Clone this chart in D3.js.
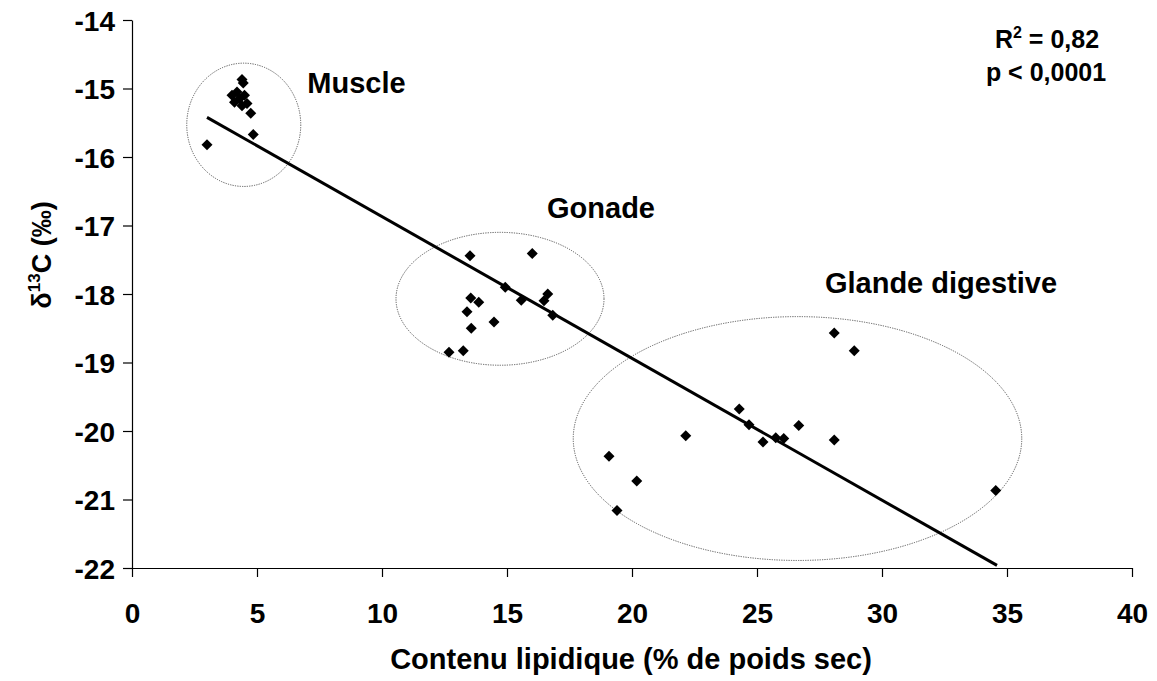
<!DOCTYPE html>
<html>
<head>
<meta charset="utf-8">
<script src="https://cdn.jsdelivr.net/npm/d3@7"></script>
<style>
  html, body { margin: 0; padding: 0; background: #fff; }
  svg { display: block; }
  text { font-family: "Liberation Sans", Arial, sans-serif; font-weight: bold; fill: #000; }
</style>
</head>
<body>
<svg id="chart" width="1157" height="681"></svg>
<script>
// Lipid content (% dry weight) and δ13C (‰) per tissue
const muscleX = [3.0, 4.4, 4.45, 4.0, 4.2, 4.1, 4.3, 4.5, 4.4, 4.6, 4.75, 4.85];
const muscleY = [-15.82, -14.87, -14.92, -15.1, -15.05, -15.2, -15.15, -15.1, -15.25, -15.22, -15.36, -15.67];

const gonadeX = [13.52, 16.01, 14.93, 13.55, 13.87, 15.57, 16.63, 16.48, 13.4, 16.83, 14.48, 13.57, 12.68, 13.25];
const gonadeY = [-17.44, -17.41, -17.9, -18.06, -18.12, -18.09, -18.0, -18.1, -18.26, -18.31, -18.41, -18.5, -18.85, -18.83];

const glandeX = [28.09, 28.89, 24.29, 24.68, 26.67, 22.15, 25.24, 25.75, 26.07, 28.09, 19.08, 20.19, 19.4, 34.55];
const glandeY = [-18.57, -18.83, -19.68, -19.91, -19.92, -20.07, -20.16, -20.1, -20.11, -20.13, -20.37, -20.73, -21.16, -20.87];

// Linear fit over all tissues
const fitSlope = -0.207;
const fitIntercept = -14.80;
const fitRange = [3.0, 34.6];

// Group outlines: centre and radii in data units
const groupNames = ["Muscle", "Gonade", "Glande digestive"];
const groupCx = [4.47, 14.72, 26.62];
const groupCy = [-15.53, -18.07, -20.11];
const groupRx = [2.28, 4.16, 8.97];
const groupRy = [0.9, 0.97, 1.78];
// Label anchor (data units) for each group name
const labelX = [8.98, 18.76, 32.36];
const labelY = [-15.07, -16.89, -17.99];

const xTicks = [0, 5, 10, 15, 20, 25, 30, 35, 40];
const yTicks = [-14, -15, -16, -17, -18, -19, -20, -21, -22];

const svg = d3.select("#chart");
const m = { left: 132, right: 1132, top: 20, bottom: 568 };

const x = d3.scaleLinear().domain([0, 40]).range([m.left, m.right]);
const y = d3.scaleLinear().domain([-22, -14]).range([m.bottom, m.top]);

// Axes
const xAxis = svg.append("g")
  .attr("transform", `translate(0,${m.bottom})`)
  .call(d3.axisBottom(x).tickValues(xTicks).tickSize(9).tickPadding(26).tickSizeOuter(0).tickFormat(d3.format("d")));
const yAxis = svg.append("g")
  .attr("transform", `translate(${m.left},0)`)
  .call(d3.axisLeft(y).tickValues(yTicks).tickSize(9).tickPadding(8).tickSizeOuter(0).tickFormat(d => d3.format("d")(d).replace("−", "-")));

[xAxis, yAxis].forEach(a => {
  a.select(".domain").attr("stroke", "#000").attr("stroke-width", 1.2);
  a.selectAll(".tick line").attr("stroke", "#000").attr("stroke-width", 1.2);
  a.selectAll(".tick text")
    .attr("font-family", "Liberation Sans, Arial, sans-serif")
    .attr("font-weight", "bold").attr("font-size", 28).attr("fill", "#000");
});
xAxis.selectAll(".tick text").attr("dy", "0.71em");
yAxis.selectAll(".tick text").attr("dy", "0.36em");

// Group ellipses
svg.append("g").selectAll("ellipse")
  .data(groupNames.map((n, i) => i))
  .join("ellipse")
  .attr("cx", i => x(groupCx[i]))
  .attr("cy", i => y(groupCy[i]))
  .attr("rx", i => x(groupCx[i] + groupRx[i]) - x(groupCx[i]))
  .attr("ry", i => y(groupCy[i] - groupRy[i]) - y(groupCy[i]))
  .attr("fill", "none")
  .attr("stroke", "#555")
  .attr("stroke-width", 1)
  .attr("stroke-dasharray", "1.2,1.2");

// Regression line
svg.append("line")
  .attr("x1", x(fitRange[0])).attr("y1", y(fitIntercept + fitSlope * fitRange[0]))
  .attr("x2", x(fitRange[1])).attr("y2", y(fitIntercept + fitSlope * fitRange[1]))
  .attr("stroke", "#000").attr("stroke-width", 3);

// Points
const pts = [];
[[muscleX, muscleY], [gonadeX, gonadeY], [glandeX, glandeY]].forEach(([xs, ys]) =>
  xs.forEach((v, i) => pts.push([v, ys[i]])));
const r = 5.5;
svg.append("g").selectAll("path")
  .data(pts)
  .join("path")
  .attr("d", d => {
    const cx = x(d[0]), cy = y(d[1]);
    return `M${cx},${cy - r}L${cx + r},${cy}L${cx},${cy + r}L${cx - r},${cy}Z`;
  })
  .attr("fill", "#000");

// Group labels
svg.append("g").selectAll("text")
  .data(groupNames.map((n, i) => i))
  .join("text")
  .attr("x", i => x(labelX[i]))
  .attr("y", i => y(labelY[i]))
  .attr("text-anchor", "middle")
  .attr("font-size", 29)
  .text(i => groupNames[i]);

// Statistics
const stats = svg.append("text").attr("x", 1047).attr("y", 48).attr("text-anchor", "middle").attr("font-size", 25);
stats.append("tspan").text("R");
stats.append("tspan").attr("font-size", 16).attr("dy", -10).text("2");
stats.append("tspan").attr("dy", 10).text(" = 0,82");
svg.append("text").attr("x", 1046).attr("y", 81).attr("text-anchor", "middle").attr("font-size", 25).text("p < 0,0001");

// Axis titles
svg.append("text")
  .attr("x", 631).attr("y", 669)
  .attr("text-anchor", "middle").attr("font-size", 29)
  .text("Contenu lipidique (% de poids sec)");

const yt = svg.append("text")
  .attr("transform", "translate(51,255) rotate(-90)")
  .attr("text-anchor", "middle").attr("font-size", 27);
yt.append("tspan").text("δ");
yt.append("tspan").attr("font-size", 17).attr("dy", -11).text("13");
yt.append("tspan").attr("dy", 11).text("C (‰)");
</script>
</body>
</html>
